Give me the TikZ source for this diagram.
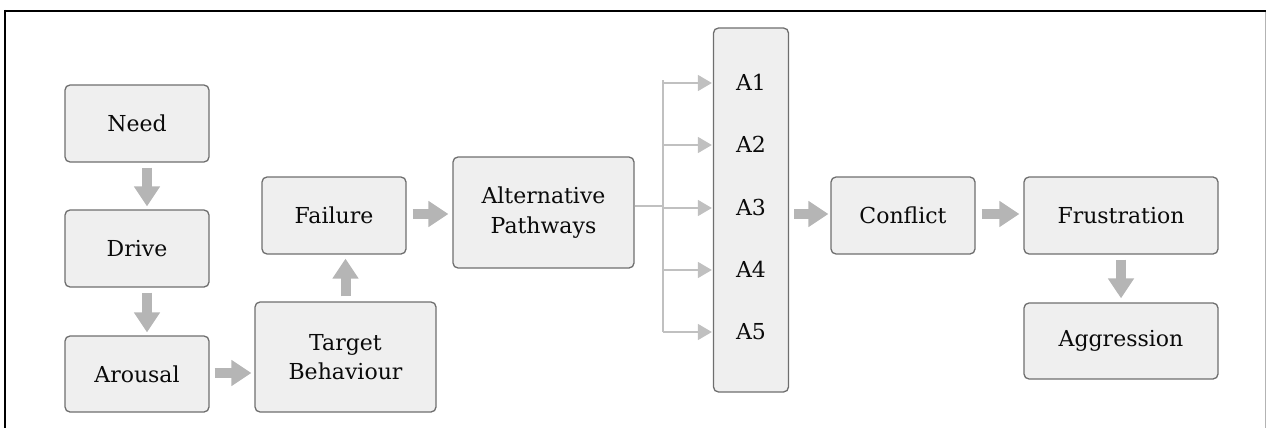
\documentclass[tikz,border=0pt]{standalone}
\usepackage{fontspec}
\setmainfont{DejaVu Serif}
\usetikzlibrary{arrows.meta}
\definecolor{boxfill}{HTML}{EFEFEF}
\definecolor{boxdraw}{HTML}{6E6E6E}
\definecolor{fatarrow}{HTML}{B5B5B5}
\definecolor{thinarrow}{HTML}{C0C0C0}
\definecolor{textcol}{HTML}{0A0A0A}
\tikzset{
  box/.style={draw=boxdraw, fill=boxfill, line width=1.3pt, rounded corners=5pt,
    inner sep=0pt, align=center, text=textcol,
    font=\fontsize{22}{29.5}\selectfont},
  lbl/.style={inner sep=0pt, text=textcol, font=\fontsize{22}{29.5}\selectfont},
  fat/.style={draw=fatarrow, line width=10pt, -{Triangle[width=25pt,length=20pt]}},
  thin/.style={draw=thinarrow, line width=1.6pt, -{Triangle[width=16pt,length=14pt]}},
  thinline/.style={draw=thinarrow, line width=1.6pt}
}
\begin{document}
\begin{tikzpicture}[x=1pt,y=-1pt]
\useasboundingbox (0,0) rectangle (1266,428);
% frame
\draw[black, line width=2.5pt] (4,11) -- (1266,11);
\draw[black, line width=2.5pt] (5,10) -- (5,428);
\draw[thinarrow!80!gray, line width=1pt] (1265,12) -- (1265,428);
% nodes
\node[box, minimum width=144pt, minimum height=77pt] (need) at (137,123.5) {Need};
\node[box, minimum width=144pt, minimum height=77pt] (drive) at (137,248.5) {Drive};
\node[box, minimum width=144pt, minimum height=76pt] (arousal) at (137,374) {Arousal};
\node[box, minimum width=144pt, minimum height=77pt] (failure) at (334,215.5) {Failure};
\node[box, minimum width=181pt, minimum height=110pt] (target) at (345.5,357) {Target\\Behaviour};
\node[box, minimum width=181pt, minimum height=111pt] (alt) at (543.5,212.5) {Alternative\\Pathways};
\node[box, minimum width=75pt, minimum height=364pt] (col) at (751,210) {};
\node[lbl] (a1) at (751,82) {A1};
\node[lbl] (a2) at (751,144) {A2};
\node[lbl] (a3) at (751,207) {A3};
\node[lbl] (a4) at (751,269) {A4};
\node[lbl] (a5) at (751,332) {A5};
\node[box, minimum width=144pt, minimum height=77pt] (conflict) at (903,215.5) {Conflict};
\node[box, minimum width=194pt, minimum height=77pt] (frus) at (1121,215.5) {Frustration};
\node[box, minimum width=194pt, minimum height=76pt] (aggr) at (1121,341) {Aggression};
% fat arrows
\draw[fat, shorten <=5pt, shorten >=3pt] ([xshift=10pt]need.south) -- ([xshift=10pt]drive.north);
\draw[fat, shorten <=5pt, shorten >=3pt] ([xshift=10pt]drive.south) -- ([xshift=10pt]arousal.north);
\draw[fat, shorten <=5pt, shorten >=3pt] ([yshift=1pt]arousal.east) -- ([yshift=1pt]arousal.east -| target.west);
\draw[fat, shorten <=5pt, shorten >=4pt] (target.north) -- (target.north |- failure.south);
\draw[fat, shorten <=6pt, shorten >=4pt] ([yshift=1.5pt]failure.east) -- ([yshift=1.5pt]failure.east -| alt.west);
\draw[fat, shorten <=5pt, shorten >=2pt] ([yshift=1.5pt]col.east |- conflict.east) -- ([yshift=1.5pt]conflict.west);
\draw[fat, shorten <=6pt, shorten >=4pt] ([yshift=1.5pt]conflict.east) -- ([yshift=1.5pt]frus.west);
\draw[fat, shorten <=5pt, shorten >=4pt] (frus.south) -- (aggr.north);
% thin branching connectors
\coordinate (trunk) at (663,206);
\draw[thinline] (alt.east |- trunk) -- (trunk);
\draw[thinline] (trunk |- a1) ++(0,-1.8) -- (trunk |- a5);
\draw[thin, shorten >=1pt] ([yshift=-1pt]trunk |- a1) -- ([yshift=-1pt]col.west |- a1);
\draw[thin, shorten >=1pt] ([yshift=-1pt]trunk |- a2) -- ([yshift=-1pt]col.west |- a2);
\draw[thin, shorten >=1pt] ([yshift=-1pt]trunk |- a3) -- ([yshift=-1pt]col.west |- a3);
\draw[thin, shorten >=1pt] ([yshift=-1pt]trunk |- a4) -- ([yshift=-1pt]col.west |- a4);
\draw[thin, shorten >=1pt] (trunk |- a5) -- (col.west |- a5);
\end{tikzpicture}
\end{document}
